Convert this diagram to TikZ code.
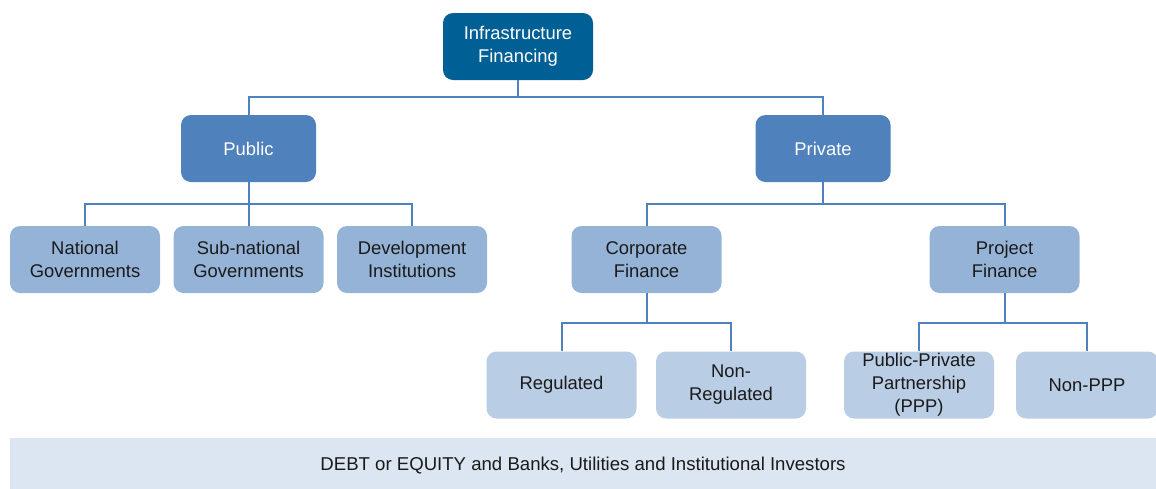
\documentclass[tikz,border=0pt]{standalone}
\usepackage{fontspec}
\setmainfont{Liberation Sans}
\usetikzlibrary{positioning}
\definecolor{topblue}{HTML}{005F94}
\definecolor{midblue}{HTML}{4F81BD}
\definecolor{lowblue}{HTML}{95B3D7}
\definecolor{leafblue}{HTML}{B9CDE5}
\definecolor{barblue}{HTML}{DCE6F2}
\definecolor{txt}{HTML}{1A1A1A}
\begin{document}
\begin{tikzpicture}[x=0.5pt,y=-0.5pt,
  box/.style={rounded corners=5pt, align=center, inner sep=0pt, minimum width=75pt, minimum height=33.5pt, font=\fontsize{9.2}{11.5}\selectfont},
  rootbox/.style={box, fill=topblue, text=white},
  sectorbox/.style={box, fill=midblue, text=white, minimum width=67.5pt},
  typebox/.style={box, fill=lowblue, text=txt},
  leafbox/.style={box, fill=leafblue, text=txt},
  link/.style={draw=midblue, line width=1pt}]
\useasboundingbox (0,0) rectangle (1156,488);
\node[rootbox] (root) at (518,46.5) {Infrastructure\\Financing};
\node[sectorbox] (public) at (248.5,148.5) {Public};
\node[sectorbox] (private) at (823,148.5) {Private};
\node[typebox] (natgov) at (85,259.5) {National\\Governments};
\node[typebox] (subgov) at (248.5,259.5) {Sub-national\\Governments};
\node[typebox] (devinst) at (412,259.5) {Development\\Institutions};
\node[typebox] (corpfin) at (646.5,259.5) {Corporate\\Finance};
\node[typebox] (projfin) at (1004.5,259.5) {Project\\Finance};
\node[leafbox] (reg) at (561.5,385) {Regulated};
\node[leafbox] (nonreg) at (731,385) {Non-\\Regulated};
\node[leafbox] (ppp) at (919,385) {Public-Private\\Partnership\\(PPP)};
\node[leafbox, minimum width=71pt] (nonppp) at (1087,385) {Non-PPP};
\node[fill=barblue, inner sep=0pt, minimum width=573pt, minimum height=28pt, font=\fontsize{9.3}{11}\selectfont, text=txt] (bar) at (583,466) {DEBT or EQUITY and Banks, Utilities and Institutional Investors};
% tree links
\path[link] (root.south) -- ++(0,17) -| (public.north);
\path[link] (root.south) -- ++(0,17) -| (private.north);
\path[link] (public.south) -- ++(0,22) -| (natgov.north);
\path[link] (public.south) -- (subgov.north);
\path[link] (public.south) -- ++(0,22) -| (devinst.north);
\path[link] (private.south) -- ++(0,22) -| (corpfin.north);
\path[link] (private.south) -- ++(0,22) -| (projfin.north);
\path[link] (corpfin.south) -- ++(0,30) -| (reg.north);
\path[link] (corpfin.south) -- ++(0,30) -| (nonreg.north);
\path[link] (projfin.south) -- ++(0,30) -| (ppp.north);
\path[link] (projfin.south) -- ++(0,30) -| (nonppp.north);
\end{tikzpicture}
\end{document}
